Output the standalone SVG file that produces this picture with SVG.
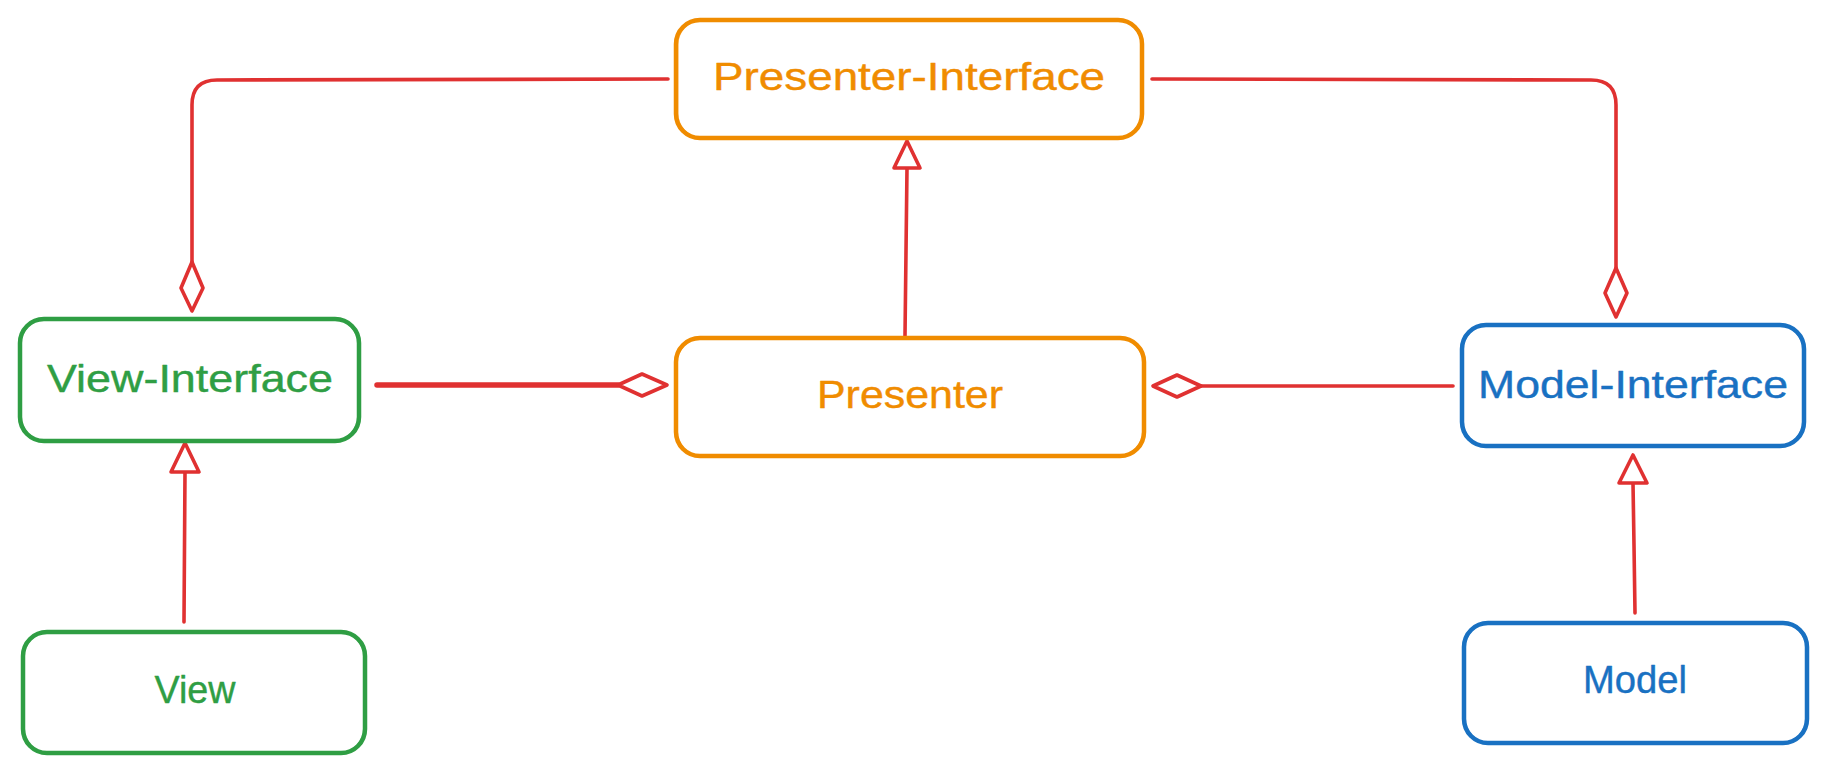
<svg xmlns="http://www.w3.org/2000/svg" width="1825" height="772" viewBox="0 0 1825 772">
<style>
.box{fill:#ffffff;stroke-width:4.5;stroke-linejoin:round}
.sk{fill:none;stroke-width:1.8;opacity:.55}
.o{stroke:#f08c00}.g{stroke:#2f9e44}.b{stroke:#1971c2}
.lbl{font-family:"Liberation Sans","Noto Sans",sans-serif;font-size:38px;text-anchor:middle;stroke-width:0.4;stroke-linejoin:round}
.to{fill:#f08c00;stroke:#f08c00}.tg{fill:#2f9e44;stroke:#2f9e44}.tb{fill:#1971c2;stroke:#1971c2}
.c{fill:none;stroke:#e03131;stroke-width:3.6;stroke-linecap:round;stroke-linejoin:round}
.head{fill:#ffffff;stroke:#e03131;stroke-width:3.6;stroke-linejoin:round}
</style>
<rect width="1825" height="772" fill="#ffffff"/>
<g id="connectors">
  <path class="c" d="M668 79 L217 80 Q192 80 192 105 L192 262"/>
  <polygon class="head" points="192,262 203,288 192,311 181,288"/>
  <path class="c" d="M1152 79 L1591 80 Q1616 80 1616 105 L1616 268"/>
  <polygon class="head" points="1616,268 1627,293 1616,317 1605,293"/>
  <path class="c" style="stroke-width:5.5" d="M377 385 L618 385"/>
  <polygon class="head" points="618,385 642,374 667,385 642,396"/>
  <path class="c" d="M1453 386 L1201 386"/>
  <polygon class="head" points="1201,386 1177,375 1153,386 1177,397"/>
  <path class="c" d="M905 336 L907 168"/>
  <polygon class="head" points="907,141 920,168 894,168"/>
  <path class="c" d="M184 622 L185 472"/>
  <polygon class="head" points="185,443 199,472 171,472"/>
  <path class="c" d="M1635 613 L1634 545 L1633 483"/>
  <polygon class="head" points="1633,455 1647,483 1619,483"/>
</g>
<g id="presenter-interface">
  <rect class="box o" x="676" y="20" width="466" height="118" rx="24"/>
  <rect class="sk o" x="677.5" y="19" width="464" height="120" rx="26"/>
  <text class="lbl to" x="909" y="90" textLength="392" lengthAdjust="spacingAndGlyphs">Presenter-Interface</text>
</g>
<g id="presenter">
  <rect class="box o" x="676" y="338" width="468" height="118" rx="24"/>
  <rect class="sk o" x="677" y="337" width="466" height="120" rx="26"/>
  <text class="lbl to" x="910" y="408" textLength="186" lengthAdjust="spacingAndGlyphs">Presenter</text>
</g>
<g id="view-interface">
  <rect class="box g" x="20" y="319" width="339" height="122" rx="24"/>
  <rect class="sk g" x="21" y="318" width="337" height="124" rx="26"/>
  <text class="lbl tg" x="190" y="392" textLength="286" lengthAdjust="spacingAndGlyphs">View-Interface</text>
</g>
<g id="view">
  <rect class="box g" x="23" y="632" width="342" height="121" rx="24"/>
  <rect class="sk g" x="24" y="631" width="340" height="123" rx="26"/>
  <text class="lbl tg" x="195" y="703" textLength="81" lengthAdjust="spacingAndGlyphs">View</text>
</g>
<g id="model-interface">
  <rect class="box b" x="1462" y="325" width="342" height="121" rx="24"/>
  <rect class="sk b" x="1463" y="324" width="340" height="123" rx="26"/>
  <text class="lbl tb" x="1633" y="398" textLength="310" lengthAdjust="spacingAndGlyphs">Model-Interface</text>
</g>
<g id="model">
  <rect class="box b" x="1464" y="623" width="343" height="120" rx="24"/>
  <rect class="sk b" x="1465" y="622" width="341" height="122" rx="26"/>
  <text class="lbl tb" x="1635" y="693" textLength="104" lengthAdjust="spacingAndGlyphs">Model</text>
</g>
</svg>
